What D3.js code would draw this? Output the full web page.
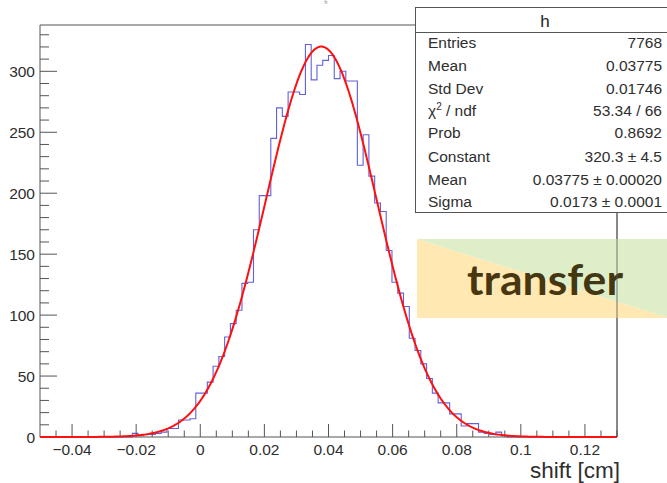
<!DOCTYPE html>
<html>
<head>
<meta charset="utf-8">
<script src="https://cdn.jsdelivr.net/npm/d3@7"></script>
<style>
  html, body { margin: 0; padding: 0; background: #fff; }
  svg { display: block; font-family: "Liberation Sans", Arial, Helvetica, sans-serif; }
</style>
</head>
<body>
<svg id="chart" width="667" height="483"></svg>
<script>
// Histogram "h": 100 bins over [-0.05, 0.13]
const histRange = [-0.05, 0.13];
const nBins = 100;
const counts = [
  0, 0, 0, 0, 0, 0, 0, 0, 0, 0,
  0, 0, 0, 0, 0, 0, 3, 1, 2, 2,
  3, 4, 7, 7, 14, 14, 15, 36, 36, 45,
  58, 66, 82, 93, 104, 126, 127, 170, 198, 198,
  245, 270, 263, 283, 283, 281, 322, 293, 305, 309,
  313, 294, 300, 292, 292, 223, 248, 214, 192, 185,
  153, 127, 118, 107, 81, 71, 60, 48, 36, 28,
  28, 19, 19, 9, 11, 11, 4, 3, 2, 4,
  1, 0, 0, 0, 0, 0, 0, 0, 0, 0,
  0, 0, 0, 0, 0, 0, 0, 0, 0, 0
];

// Gaussian fit parameters
const fitConstant = 320.3;
const fitMean = 0.03775;
const fitSigma = 0.0173;

// Axis ticks
const xMajorTicks = [-0.04, -0.02, 0, 0.02, 0.04, 0.06, 0.08, 0.1, 0.12];
const xTickLabels = ["\u22120.04", "\u22120.02", "0", "0.02", "0.04", "0.06", "0.08", "0.1", "0.12"];
const yMajorTicks = [0, 50, 100, 150, 200, 250, 300];
const yTickLabels = ["0", "50", "100", "150", "200", "250", "300"];
const yMax = 338;

// Statistics box rows
const statNames = ["Entries", "Mean", "Std Dev", "\u03C7\u00B2 / ndf", "Prob", "Constant", "Mean", "Sigma"];
const statValues = ["7768", "0.03775", "0.01746", "53.34 / 66", "0.8692",
                     "320.3 \u00B1 4.5", "0.03775 \u00B1 0.00020", "0.0173 \u00B1 0.0001"];

const svg = d3.select("#chart");
const frame = { left: 40, right: 617, top: 25, bottom: 437 };
const lineCol = "#555";
const textCol = "#2e2e2e";

const x = d3.scaleLinear().domain(histRange).range([frame.left, frame.right]);
const y = d3.scaleLinear().domain([0, yMax]).range([frame.bottom, frame.top]);

// pad title at the very top edge
svg.append("text").attr("x", 326).attr("y", 4).attr("text-anchor", "middle")
  .attr("font-size", 5).attr("fill", "#777").text("h");

// frame (top + right)
svg.append("path")
  .attr("d", `M${frame.left},${frame.top}H${frame.right}V${frame.bottom}`)
  .attr("fill", "none").attr("stroke", lineCol).attr("stroke-width", 1);

// histogram as a step outline
const binW = (histRange[1] - histRange[0]) / nBins;
let d = `M${x(histRange[0])},${y(0)}`;
counts.forEach((c, i) => {
  const x1 = x(histRange[0] + (i + 1) * binW);
  d += `V${y(c)}H${x1}`;
});
d += `V${y(0)}`;
svg.append("path").attr("d", d).attr("fill", "none")
  .attr("stroke", "#3a3ad0").attr("stroke-width", 1.1).attr("stroke-opacity", 0.8);

// x axis: baseline + ticks pointing up
const xg = svg.append("g");
xg.append("line").attr("x1", frame.left).attr("x2", frame.right)
  .attr("y1", frame.bottom).attr("y2", frame.bottom).attr("stroke", lineCol);
const xMinor = d3.range(-0.045, 0.1301, 0.005).filter(v => !xMajorTicks.some(m => Math.abs(m - v) < 1e-6));
xg.selectAll(".xmin").data(xMinor).enter().append("line")
  .attr("x1", d => x(d)).attr("x2", d => x(d))
  .attr("y1", frame.bottom).attr("y2", frame.bottom - 6.5).attr("stroke", lineCol);
xg.selectAll(".xmaj").data(xMajorTicks).enter().append("line")
  .attr("x1", d => x(d)).attr("x2", d => x(d))
  .attr("y1", frame.bottom).attr("y2", frame.bottom - 13).attr("stroke", lineCol);
xg.selectAll(".xlab").data(xMajorTicks).enter().append("text")
  .attr("x", d => x(d)).attr("y", 454.5).attr("text-anchor", "middle")
  .attr("font-size", 15.5).attr("fill", textCol)
  .text((d, i) => xTickLabels[i]);
svg.append("text").attr("x", 620).attr("y", 478).attr("text-anchor", "end")
  .attr("font-size", 22.5).attr("fill", textCol).text("shift [cm]");

// y axis: line + ticks pointing right
const yg = svg.append("g");
yg.append("line").attr("x1", frame.left).attr("x2", frame.left)
  .attr("y1", frame.top).attr("y2", frame.bottom).attr("stroke", lineCol);
const yMinor = d3.range(10, 331, 10).filter(v => v % 50 !== 0);
yg.selectAll(".ymin").data(yMinor).enter().append("line")
  .attr("x1", frame.left).attr("x2", frame.left + 9)
  .attr("y1", d => y(d)).attr("y2", d => y(d)).attr("stroke", lineCol);
yg.selectAll(".ymaj").data(yMajorTicks).enter().append("line")
  .attr("x1", frame.left).attr("x2", frame.left + 17)
  .attr("y1", d => y(d)).attr("y2", d => y(d)).attr("stroke", lineCol);
yg.selectAll(".ylab").data(yMajorTicks).enter().append("text")
  .attr("x", 35).attr("y", d => y(d) + 5.5).attr("text-anchor", "end")
  .attr("font-size", 15.5).attr("fill", textCol)
  .text((d, i) => yTickLabels[i]);

// Gaussian fit curve
const gauss = v => fitConstant * Math.exp(-0.5 * Math.pow((v - fitMean) / fitSigma, 2));
const xs = d3.range(histRange[0], histRange[1] + 1e-9, 0.0005);
svg.append("path")
  .attr("d", d3.line().x(v => x(v)).y(v => y(gauss(v))).curve(d3.curveLinear)(xs))
  .attr("fill", "none").attr("stroke", "#ff1010").attr("stroke-width", 2);

// statistics box
const box = { x: 415, y: 7, w: 254, h: 205 };
const sg = svg.append("g");
sg.append("rect").attr("x", box.x + 0.5).attr("y", box.y + 0.5)
  .attr("width", box.w).attr("height", box.h)
  .attr("fill", "#fff").attr("stroke", lineCol);
sg.append("line").attr("x1", box.x).attr("x2", box.x + box.w)
  .attr("y1", 32.5).attr("y2", 32.5).attr("stroke", lineCol);
sg.append("text").attr("x", 545).attr("y", 26.5).attr("text-anchor", "middle")
  .attr("font-size", 17).attr("fill", "#222").text("h");
const rowY = [48, 71, 94, 116, 138, 162, 185, 207];
statNames.forEach((name, i) => {
  const t = sg.append("text").attr("x", 428).attr("y", rowY[i])
    .attr("font-size", 15.5).attr("fill", textCol);
  if (name.indexOf("\u00B2") >= 0) {
    t.append("tspan").text("\u03C7");
    t.append("tspan").attr("font-size", 10).attr("dy", -6).text("2");
    t.append("tspan").attr("dy", 6).text(" / ndf");
  } else {
    t.text(name);
  }
  sg.append("text").attr("x", 662).attr("y", rowY[i]).attr("text-anchor", "end")
    .attr("font-size", 15.5).attr("fill", textCol).text(statValues[i]);
});

// "transfer" banner
const bn = { x: 417, y: 239, w: 252, h: 79 };
const bg = svg.append("g");
bg.append("path")
  .attr("d", `M${bn.x},${bn.y}L${bn.x + bn.w},${bn.y + bn.h}H${bn.x}Z`)
  .attr("fill", "#ffe8b2");
bg.append("path")
  .attr("d", `M${bn.x},${bn.y}H${bn.x + bn.w}V${bn.y + bn.h}Z`)
  .attr("fill", "#ddeec9");
bg.append("text").attr("x", 545).attr("y", 295).attr("text-anchor", "middle")
  .attr("font-family", "Lato, 'Open Sans', sans-serif").attr("font-weight", 700)
  .attr("font-size", 42).attr("fill", "#342400").attr("fill-opacity", 0.92)
  .attr("textLength", 156).attr("lengthAdjust", "spacingAndGlyphs")
  .text("transfer");

// right frame edge shows through the banner
svg.append("line").attr("x1", frame.right).attr("x2", frame.right)
  .attr("y1", box.y + box.h + 1).attr("y2", frame.bottom)
  .attr("stroke", lineCol).attr("stroke-opacity", 0.8);
</script>
</body>
</html>
